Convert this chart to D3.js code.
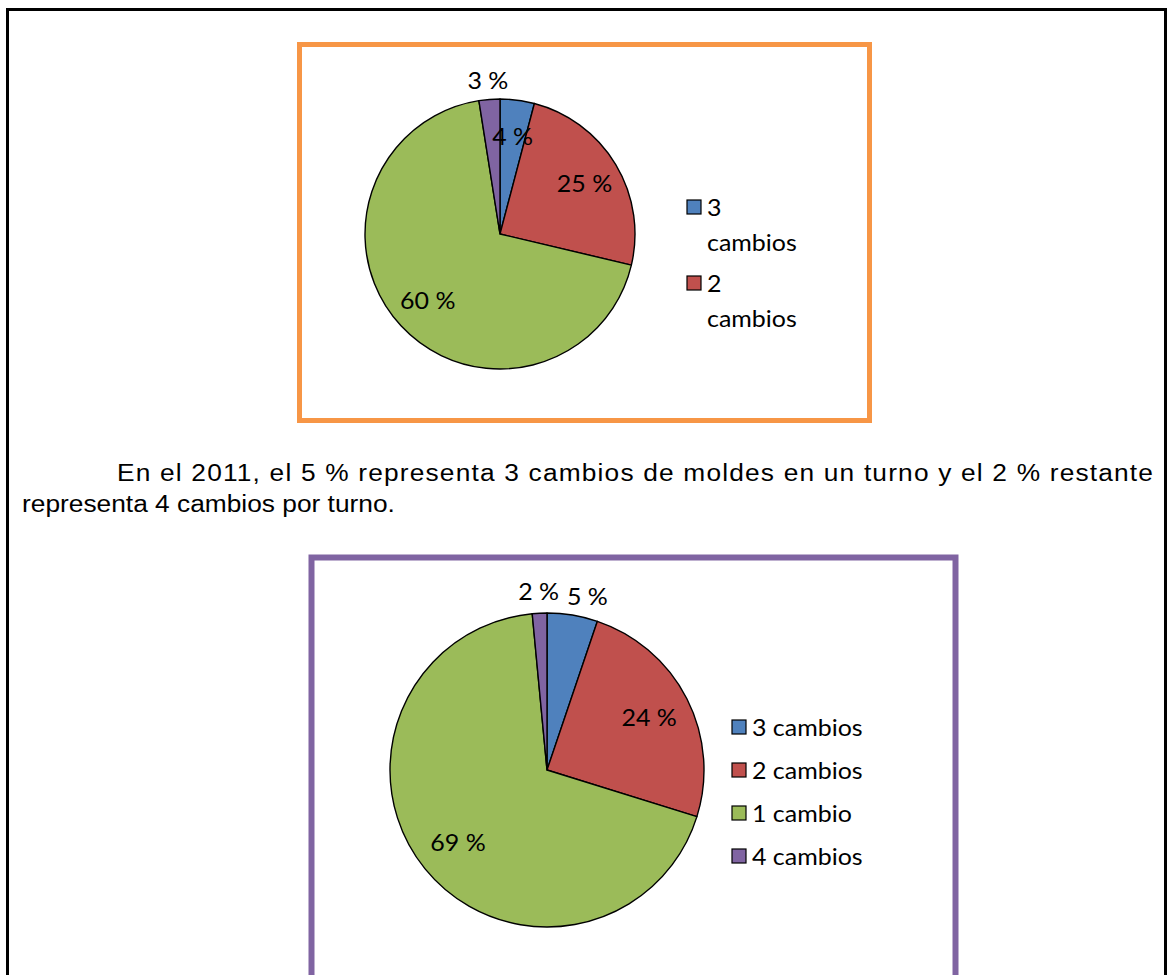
<!DOCTYPE html>
<html>
<head>
<meta charset="utf-8">
<script src="https://cdn.jsdelivr.net/npm/d3@7"></script>
<style>
	body { margin: 0; background: #fff; }
	svg { display: block; }
	.lbl { font-family: Lato, "Open Sans", sans-serif; font-size: 24px; fill: #000; }
	.par { font-family: "Liberation Sans", Arial, sans-serif; font-size: 23.5px; fill: #000; }
</style>
</head>
<body>
<svg id="page" width="1169" height="975"></svg>
<script>
function whenDocumentLoaded(action) {
	if (document.readyState === "loading") {
		document.addEventListener("DOMContentLoaded", action);
	} else {
		action();
	}
}

const CATEGORIES = ['3 cambios', '2 cambios', '1 cambio', '4 cambios'];
const COLORS = ['#4F81BD', '#C0504D', '#9BBB59', '#8064A2'];

// first chart: slice sizes as drawn, and the labels printed on it
const SHARES_1 = [4.1, 24.6, 68.8, 2.5];
const LABELS_1 = ['4 %', '25 %', '60 %', '3 %'];

// second chart (2011)
const SHARES_2 = [5.2, 24.6, 68.7, 1.5];
const LABELS_2 = ['5 %', '24 %', '69 %', '2 %'];

const PARAGRAPH = [
	'En el 2011, el 5 % representa 3 cambios de moldes en un turno y el 2 % restante',
	'representa 4 cambios por turno.'
];

const SX = 1.04;  // the chart text is a little wider than Lato
const PSX = 1.12; // same for the paragraph text

function stretchedText(parent, x, y, str, cls, sx, anchor) {
	return parent.append('text')
		.classed(cls, true)
		.attr('transform', `translate(${x},${y}) scale(${sx},1)`)
		.attr('text-anchor', anchor || 'start')
		.text(str);
}

class PieChart {
	constructor(svg, opt) {
		const g = svg.append('g');

		// frame
		g.append('rect')
			.attr('x', opt.frame[0]).attr('y', opt.frame[1])
			.attr('width', opt.frame[2]).attr('height', opt.frame[3])
			.attr('fill', 'white')
			.attr('stroke', opt.frameColor)
			.attr('stroke-width', opt.frameWidth);

		const data = opt.shares.map((v, i) => ({ value: v, label: opt.labels[i], name: CATEGORIES[i], color: COLORS[i], idx: i }));
		const pie = d3.pie().sort(null).value(d => d.value);
		const arcs = pie(data);
		const arc = d3.arc().innerRadius(0).outerRadius(opt.r);
		const inArc = d3.arc().innerRadius(opt.r * 0.73).outerRadius(opt.r * 0.73);
		const outArc = d3.arc().innerRadius(opt.r * 1.14).outerRadius(opt.r * 1.14);

		const plot = g.append('g').attr('transform', `translate(${opt.cx},${opt.cy})`);

		plot.selectAll('path')
			.data(arcs)
			.enter().append('path')
			.attr('d', arc)
			.attr('fill', d => d.data.color)
			.attr('stroke', '#000')
			.attr('stroke-width', 1.4)
			.attr('stroke-linejoin', 'round');

		// data labels, small slices go outside
		const labels = arcs.map(d => {
			const outside = opt.outside.includes(d.data.idx);
			const p = (outside ? outArc : inArc).centroid(d);
			const t = stretchedText(plot, p[0], p[1], d.data.label, 'lbl', SX, 'middle')
				.attr('dy', '0.35em');
			return { t: t, x: p[0], y: p[1], outside: outside, w: t.node().getComputedTextLength() * SX };
		});

		// push overlapping outside labels apart (to the right)
		const outs = labels.filter(l => l.outside).sort((a, b) => a.x - b.x);
		for (let i = 1; i < outs.length; i++) {
			const prev = outs[i - 1], cur = outs[i];
			const minX = prev.x + prev.w / 2 + 8 + cur.w / 2;
			if (cur.x < minX && Math.abs(cur.y - prev.y) < 25) {
				cur.x = minX;
				cur.t.attr('transform', `translate(${cur.x},${cur.y + 3}) scale(${SX},1)`);
			}
		}

		// legend
		const leg = g.append('g').attr('transform', `translate(${opt.legend[0]},${opt.legend[1]})`);
		const items = data.slice(0, opt.legendCount);
		let y = 0;
		items.forEach(d => {
			leg.append('rect')
				.attr('x', 0).attr('y', y - 7)
				.attr('width', 14).attr('height', 14)
				.attr('fill', d.color)
				.attr('stroke', '#000')
				.attr('stroke-width', 1.2);
			const lines = opt.wrap ? d.name.split(' ') : [d.name];
			lines.forEach((ln, k) => {
				stretchedText(leg, 20, y + 8.5 + k * opt.lineH, ln, 'lbl', SX);
			});
			y += opt.itemH;
		});
	}
}

whenDocumentLoaded(() => {
	const svg = d3.select('#page');

	svg.append('rect')
		.attr('x', 7.5).attr('y', 9.5)
		.attr('width', 1158).attr('height', 1000)
		.attr('fill', 'white')
		.attr('stroke', '#000')
		.attr('stroke-width', 3);

	new PieChart(svg, {
		shares: SHARES_1, labels: LABELS_1,
		frame: [299.5, 44.5, 570, 376], frameColor: '#F79646', frameWidth: 5,
		cx: 500, cy: 234, r: 135,
		outside: [3],
		legend: [687, 207], legendCount: 2, wrap: true, lineH: 35, itemH: 76
	});

	new PieChart(svg, {
		shares: SHARES_2, labels: LABELS_2,
		frame: [311.5, 557.5, 644, 500], frameColor: '#8064A2', frameWidth: 6,
		cx: 547, cy: 770, r: 157,
		outside: [0, 3],
		legend: [732, 727], legendCount: 4, wrap: false, lineH: 0, itemH: 43
	});

	// paragraph between the two charts, first line justified
	stretchedText(svg, 117, 481, PARAGRAPH[0], 'par', PSX)
		.attr('textLength', (1153 - 117) / PSX)
		.attr('lengthAdjust', 'spacing');
	stretchedText(svg, 22, 512, PARAGRAPH[1], 'par', PSX);
});
</script>
</body>
</html>
